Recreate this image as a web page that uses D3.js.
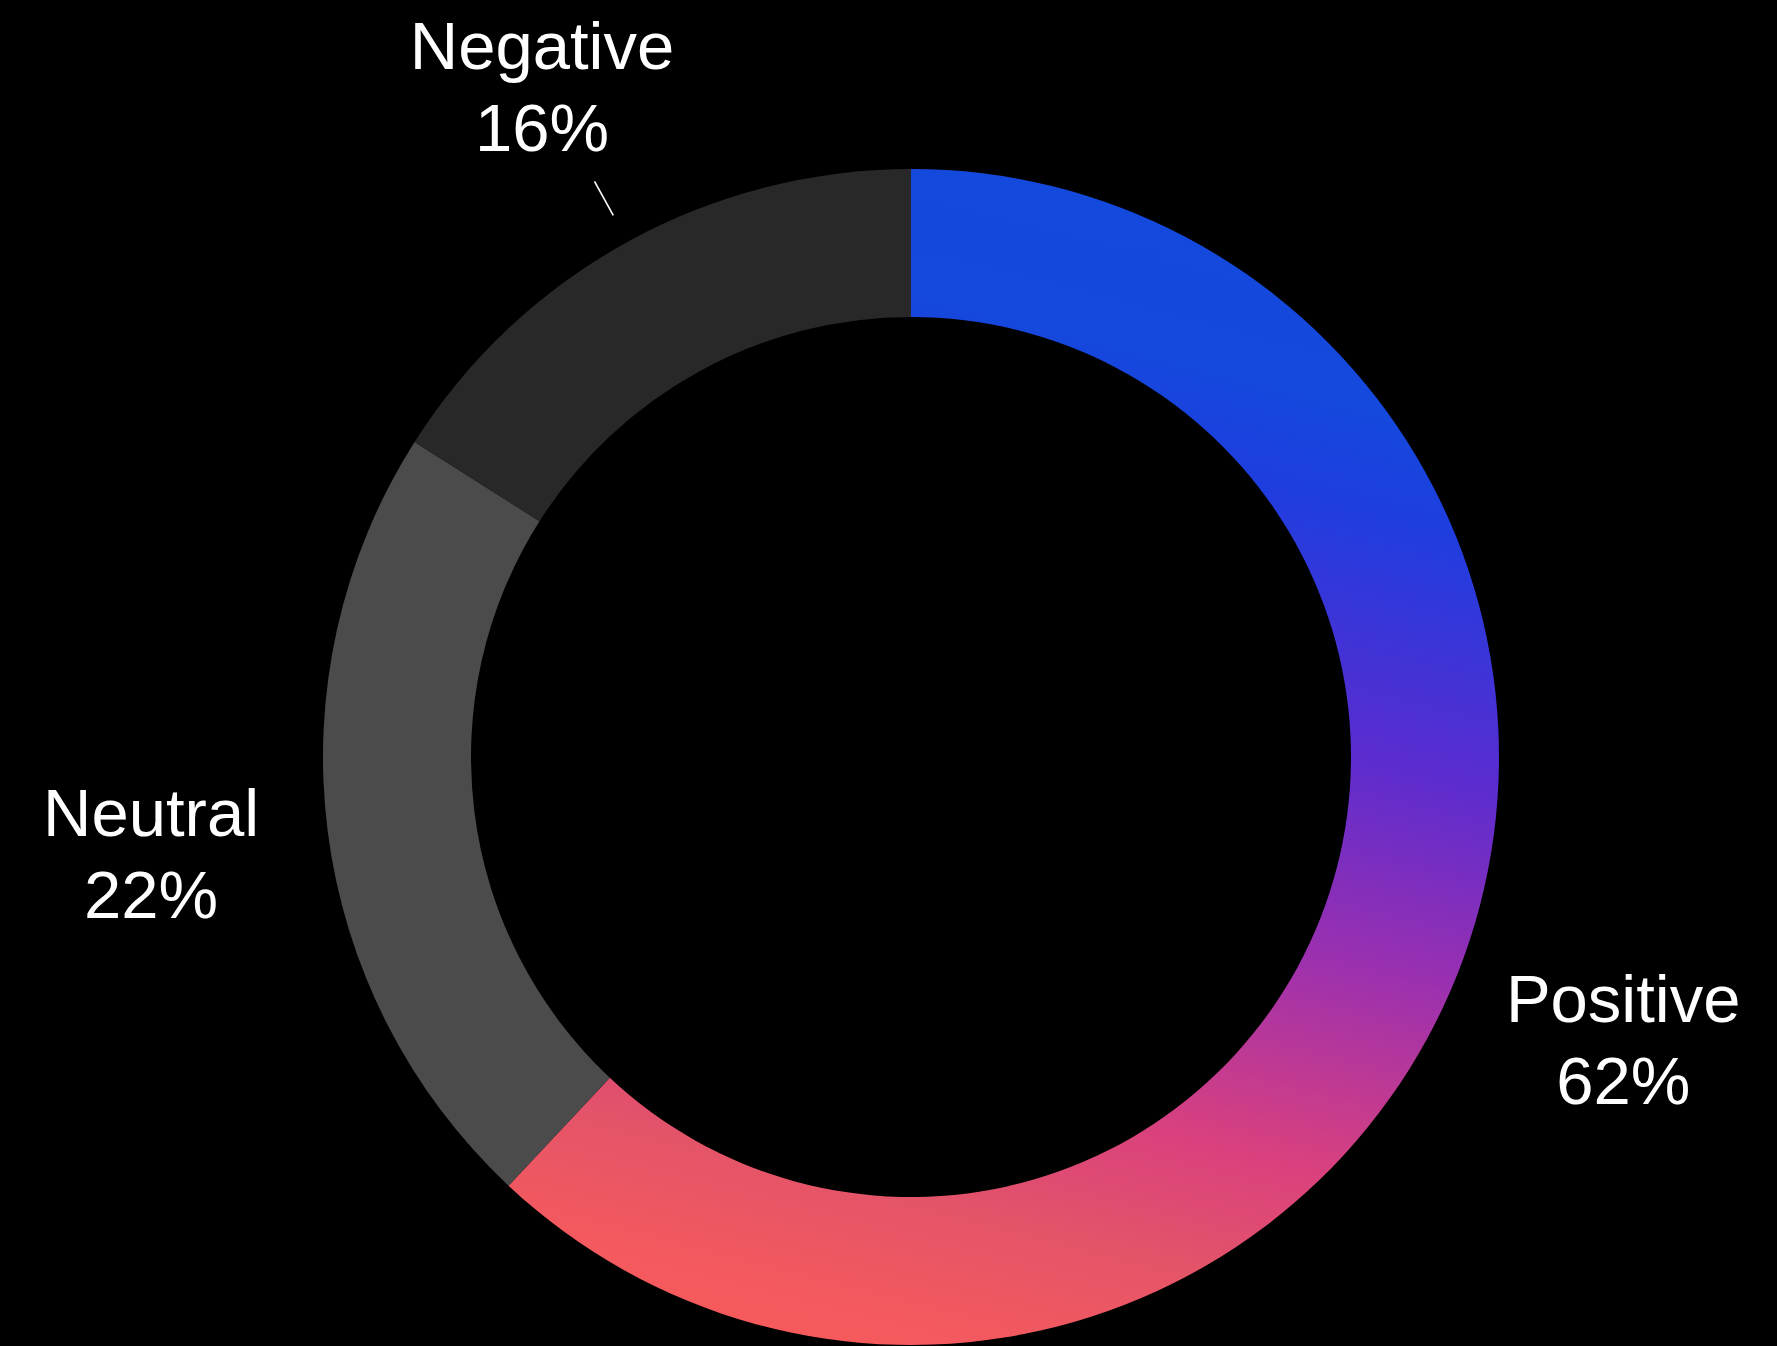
<!DOCTYPE html>
<html>
<head>
<meta charset="utf-8">
<script src="https://cdn.jsdelivr.net/npm/d3@7"></script>
<style>
  html, body { margin: 0; padding: 0; background: #000; }
  svg { display: block; }
</style>
</head>
<body>
<svg id="chart" width="1777" height="1346"></svg>
<script>
// Sentiment breakdown
const categories = ["Positive", "Neutral", "Negative"];
const shares = [62, 22, 16];
const sliceFills = ["url(#positiveGrad)", "#4b4b4b", "#282828"];
const leaderLabels = ["Negative"];

const width = 1777, height = 1346;
const cx = 911, cy = 757;
const outerR = 588, innerR = 440;
const labelR = 766;
const fontSize = 67;

const svg = d3.select("#chart");
svg.append("rect").attr("width", width).attr("height", height).attr("fill", "#000");

// Blue → violet → coral gradient for the leading slice
// (coordinates are in the donut group's centred space)
const defs = svg.append("defs");
const grad = defs.append("linearGradient")
  .attr("id", "positiveGrad")
  .attr("gradientUnits", "userSpaceOnUse")
  .attr("x1", 89).attr("y1", -outerR)
  .attr("x2", -211).attr("y2", outerR);
[
  [0.00, "#1449dd"],
  [0.12, "#1548dd"],
  [0.20, "#1f3ddf"],
  [0.39, "#5a2cd0"],
  [0.56, "#9a30b0"],
  [0.73, "#d8407f"],
  [0.84, "#e45468"],
  [0.93, "#f2595f"],
  [1.00, "#f85a5a"]
].forEach(([o, c]) => grad.append("stop").attr("offset", o).attr("stop-color", c));

const data = categories.map((name, i) => ({ name, value: shares[i], fill: sliceFills[i] }));

const pie = d3.pie().value(d => d.value).sort(null);
const arcs = pie(data);

const arc = d3.arc().innerRadius(innerR).outerRadius(outerR);

const g = svg.append("g").attr("transform", `translate(${cx},${cy})`);

g.selectAll("path.slice")
  .data(arcs)
  .join("path")
  .attr("class", "slice")
  .attr("d", arc)
  .attr("fill", d => d.data.fill);

const mid = d => (d.startAngle + d.endAngle) / 2;
const polar = (a, r) => [Math.sin(a) * r, -Math.cos(a) * r];

// Short radial leader ticks
g.selectAll("line.leader")
  .data(arcs.filter(d => leaderLabels.includes(d.data.name)))
  .join("line")
  .attr("class", "leader")
  .attr("x1", d => polar(mid(d), outerR + 30)[0])
  .attr("y1", d => polar(mid(d), outerR + 30)[1])
  .attr("x2", d => polar(mid(d), outerR + 69)[0])
  .attr("y2", d => polar(mid(d), outerR + 69)[1])
  .attr("stroke", "#fff")
  .attr("stroke-width", 1.6);

// Two-line labels: name and share
const labels = g.selectAll("g.label")
  .data(arcs)
  .join("g")
  .attr("class", "label")
  .attr("transform", d => {
    const [x, y] = polar(mid(d), labelR);
    return `translate(${x},${y})`;
  });

labels.append("text")
  .attr("y", -17)
  .attr("text-anchor", "middle")
  .attr("fill", "#fff")
  .style("font-family", "'Liberation Sans', Arial, Helvetica, sans-serif")
  .style("font-size", fontSize + "px")
  .text(d => d.data.name);

labels.append("text")
  .attr("y", 65)
  .attr("text-anchor", "middle")
  .attr("fill", "#fff")
  .style("font-family", "'Liberation Sans', Arial, Helvetica, sans-serif")
  .style("font-size", fontSize + "px")
  .text(d => d.data.value + "%");
</script>
</body>
</html>
